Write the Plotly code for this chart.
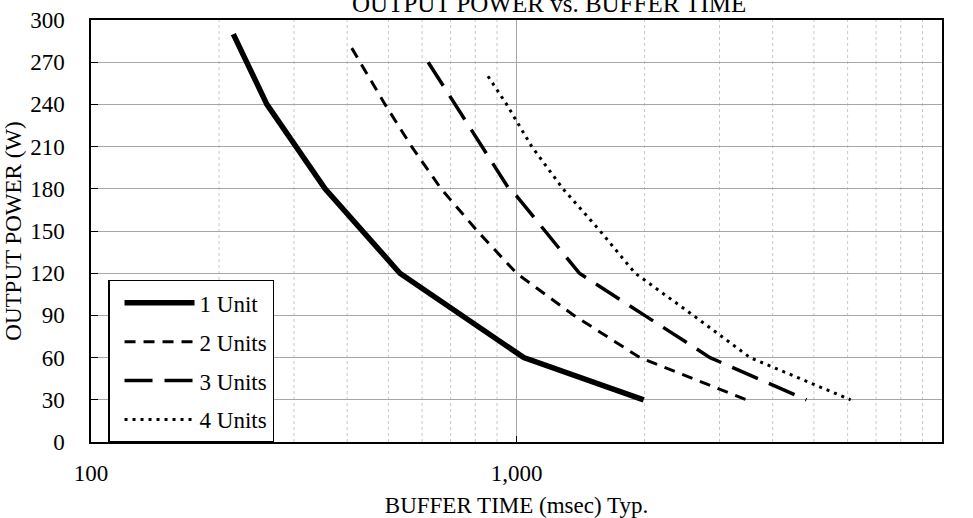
import plotly.graph_objects as go

# ---- data ----
series_names = ["1 Unit", "2 Units", "3 Units", "4 Units"]

unit1_x = [216, 259, 355, 532, 1040, 1990]
unit1_y = [290, 240, 180, 120, 60, 30]

unit2_x = [410, 429, 491, 567, 665, 809, 1000, 1365, 1950, 3475]
unit2_y = [280, 270, 240, 210, 180, 150, 120, 90, 60, 30]

unit3_x = [620, 717, 830, 960, 1000, 1167, 1405, 2000, 2850, 4800]
unit3_y = [270, 240, 210, 180, 175, 150, 120, 90, 60, 30]

unit4_x = [857, 948, 1086, 1286, 1572, 1900, 2604, 3540, 6100]
unit4_y = [260, 240, 210, 180, 150, 120, 90, 60, 30]

x_tickvals = [100, 1000, 10000]
x_ticktext = ["100", "1,000", "10,000"]
y_tickvals = [0, 30, 60, 90, 120, 150, 180, 210, 240, 270, 300]
minor_x = [200, 300, 400, 500, 600, 700, 800, 900,
           2000, 3000, 4000, 5000, 6000, 7000, 8000, 9000]

title_text = "OUTPUT POWER vs. BUFFER TIME"
x_title = "BUFFER TIME (msec) Typ."
y_title = "OUTPUT POWER (W)"

FONT = "Liberation Serif, Times New Roman, serif"

styles = [
    dict(width=5.5, dash="solid"),
    dict(width=3, dash="11px,8px"),
    dict(width=3.5, dash="28px,12px"),
    dict(width=3, dash="3px,5px"),
]
xs = [unit1_x, unit2_x, unit3_x, unit4_x]
ys = [unit1_y, unit2_y, unit3_y, unit4_y]

fig = go.Figure()
for i, (name, x, y, st) in enumerate(zip(series_names, xs, ys, styles)):
    fig.add_trace(go.Scatter(
        x=x, y=y, mode="lines", name=name, legendgroup=f"g{i}",
        line=dict(color="black", width=st["width"], dash=st["dash"]),
    ))

shapes = []
for v in minor_x:
    shapes.append(dict(type="line", xref="x", yref="paper", x0=v, x1=v, y0=0, y1=1,
                       line=dict(color="#c8c8c8", width=1, dash="dot"), layer="below"))

fig.update_layout(
    width=973, height=518,
    margin=dict(l=91, r=31, t=20, b=76, autoexpand=False),
    paper_bgcolor="white", plot_bgcolor="white",
    font=dict(family=FONT, size=23, color="black"),
    shapes=shapes,
    showlegend=True,
    legend=dict(
        x=0.02, y=-0.002, xanchor="left", yanchor="bottom",
        bgcolor="white", bordercolor="black", borderwidth=1.5,
        font=dict(family=FONT, size=23, color="black"),
        itemwidth=70, tracegroupgap=6, traceorder="grouped",
        indentation=10,
    ),
    annotations=[dict(
        text=title_text, xref="paper", yref="paper", x=0.538, y=1.0,
        xanchor="center", yanchor="bottom", yshift=1, showarrow=False,
        font=dict(family=FONT, size=25, color="black"),
    )],
)

fig.update_xaxes(
    type="log", range=[2, 4], automargin=False,
    tickvals=x_tickvals, ticktext=x_ticktext,
    showgrid=True, gridcolor="#a6a6a6", gridwidth=1.2,
    showline=True, mirror=True, linecolor="black", linewidth=1.5,
    ticks="inside", ticklen=6, tickcolor="black",
    ticklabelstandoff=10,
    title=dict(text=x_title, standoff=14, font=dict(family=FONT, size=23)),
    zeroline=False,
)
fig.update_yaxes(
    range=[0, 300], tickvals=y_tickvals, automargin=False,
    showgrid=True, gridcolor="#a6a6a6", gridwidth=1.2,
    showline=True, mirror=True, linecolor="black", linewidth=1.5,
    ticks="inside", ticklen=7, tickcolor="black",
    ticklabelstandoff=20,
    title=dict(text=y_title, standoff=2, font=dict(family=FONT, size=23)),
    zeroline=False,
)

fig.write_html("out.html", config={"displayModeBar": False},
               post_script="document.body.style.margin='0px';")
